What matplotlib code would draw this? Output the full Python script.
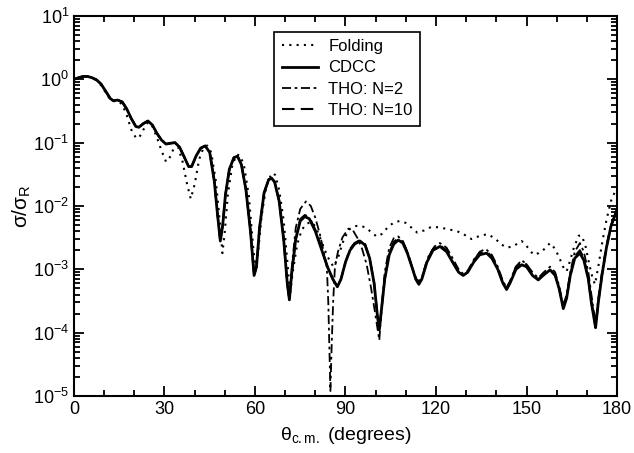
import numpy as np
import matplotlib
matplotlib.use("Agg")
import matplotlib.pyplot as plt

plt.rcParams['font.family'] = ['Liberation Sans', 'DejaVu Sans']
plt.rcParams['mathtext.fontset'] = 'custom'
plt.rcParams['mathtext.rm'] = 'Liberation Sans'
plt.rcParams['mathtext.it'] = 'Liberation Sans:italic'

# -----------------------------
# Données
# -----------------------------
theta_cdcc = [0, 1.5, 3, 4.5, 6, 7.5, 9, 10.5, 12, 13,
              14.5, 16, 17.5, 19, 20.5, 21.5, 23, 24.5, 26, 27.5,
              29, 30.5, 32, 33.5, 35, 36.5, 38, 39, 40.5, 42,
              43.5, 45, 46.5, 47.5, 48.5, 49.3, 50.2, 51.5, 53, 54.2,
              55.5, 57, 58.5, 59.7, 60.5, 61.5, 63, 64.5, 65.5, 66.5,
              68, 69.5, 70.7, 71.4, 72.2, 73.5, 75, 76.5, 78, 80,
              82, 84, 85.8, 87.3, 88.5, 90, 91.5, 93, 94.8, 96.5,
              98, 99.5, 100.5, 101.2, 102, 103, 104.5, 106, 107.5, 109,
              110.5, 112, 113.3, 114.3, 115.3, 117, 119, 121.3, 123.5, 125.5,
              127.5, 129, 130.5, 132.5, 134.5, 136.8, 138.5, 140.5, 142.2, 143.4,
              144.5, 146.5, 148.4, 150, 152, 153.9, 155.5, 157.8, 159.5, 160.8,
              162.2, 163.3, 164.5, 166, 167.7, 169, 170.5, 171.5, 172.9, 173.8,
              175, 176.5, 178, 180]
cdcc = [1.0, 1.06, 1.11, 1.11, 1.06, 0.98, 0.84, 0.65, 0.50, 0.46,
        0.47, 0.44, 0.34, 0.24, 0.18, 0.175, 0.20, 0.22, 0.19, 0.14,
        0.11, 0.095, 0.098, 0.10, 0.085, 0.06, 0.042, 0.042, 0.062, 0.082,
        0.089, 0.07, 0.025, 0.008, 0.0028, 0.005, 0.015, 0.038, 0.058, 0.061,
        0.045, 0.018, 0.004, 0.0008, 0.0011, 0.0045, 0.016, 0.026, 0.0275, 0.024,
        0.012, 0.003, 0.0006, 0.00033, 0.0009, 0.003, 0.0058, 0.0068, 0.0063, 0.0040,
        0.0021, 0.0011, 0.0007, 0.00053, 0.0007, 0.0013, 0.0020, 0.0025, 0.0028, 0.0024,
        0.0015, 0.0006, 0.0002, 0.00011, 0.00025, 0.0007, 0.0017, 0.0025, 0.0029, 0.0026,
        0.0018, 0.0011, 0.0007, 0.00058, 0.0007, 0.0013, 0.0020, 0.0023, 0.0019, 0.0013,
        0.0009, 0.0008, 0.0009, 0.0013, 0.0017, 0.0018, 0.0015, 0.0010, 0.0006, 0.00048,
        0.0006, 0.001, 0.00118, 0.0011, 0.0008, 0.00068, 0.0008, 0.00098, 0.0008, 0.0005,
        0.00024, 0.00035, 0.0008, 0.0015, 0.0018, 0.0014, 0.0007, 0.0003, 0.00012, 0.0003,
        0.0008, 0.0022, 0.0048, 0.0088]

theta_n10 = theta_cdcc
tho_n10 = [1.0, 1.06, 1.11, 1.11, 1.06, 0.98, 0.84, 0.65, 0.50, 0.46,
           0.47, 0.44, 0.34, 0.24, 0.18, 0.175, 0.20, 0.22, 0.19, 0.14,
           0.11, 0.095, 0.098, 0.10, 0.085, 0.06, 0.042, 0.042, 0.062, 0.082,
           0.089, 0.07, 0.025, 0.008, 0.0028, 0.005, 0.015, 0.038, 0.058, 0.061,
           0.045, 0.018, 0.004, 0.0008, 0.0011, 0.0045, 0.016, 0.026, 0.0275, 0.024,
           0.012, 0.003, 0.0006, 0.00033, 0.0009, 0.003, 0.0062, 0.0072, 0.0067, 0.0042,
           0.0022, 0.0011, 0.0007, 0.00053, 0.0007, 0.0013, 0.0021, 0.0026, 0.0029, 0.0025,
           0.0015, 0.0006, 0.0002, 0.00011, 0.00025, 0.0007, 0.0018, 0.0027, 0.0031, 0.0027,
           0.0019, 0.0011, 0.0007, 0.0006, 0.0007, 0.0014, 0.0021, 0.0024, 0.0020, 0.0013,
           0.0009, 0.0008, 0.0009, 0.0014, 0.0018, 0.0019, 0.0016, 0.0010, 0.0006, 0.0005,
           0.00062, 0.0011, 0.0013, 0.0012, 0.0008, 0.0007, 0.00082, 0.001, 0.00082, 0.0005,
           0.00025, 0.00036, 0.0008, 0.0016, 0.0020, 0.0015, 0.0007, 0.0003, 0.00012, 0.0003,
           0.0008, 0.0022, 0.0048, 0.0088]

theta_fold = [0, 1.5, 3, 4.5, 6, 7.5, 9, 10.5, 12, 13,
              14.5, 16, 17.5, 19, 20.5, 21.5, 23, 24.5, 26, 27.5,
              29, 30.5, 31.5, 33, 34.5, 36, 37.5, 38.7, 40, 41.5,
              43, 44.2, 45.5, 47, 48.3, 49.2, 50, 51, 52.5, 54,
              55.2, 56.5, 58, 59.3, 60.2, 61, 62.2, 63.7, 65.5, 66.7,
              68, 69.5, 70.8, 71.6, 72.5, 74, 75.5, 77, 78.5, 80,
              82, 84, 86, 87.5, 89, 91, 93, 94.8, 96.5, 98.5,
              100.3, 102, 104, 106, 108, 110, 112, 113.8, 116, 118.5,
              121, 124, 127, 129.5, 131.8, 134, 137, 139.5, 141.5, 143.5,
              145.5, 148.4, 150.5, 152.3, 154, 155.5, 157.8, 159.5, 161.2, 162.5,
              163.3, 164.3, 165.7, 167.3, 168.3, 169.5, 170.8, 172, 172.7, 173.8,
              175, 176.5, 178, 180]
folding = [1.0, 1.06, 1.11, 1.11, 1.05, 0.96, 0.80, 0.62, 0.48, 0.45,
           0.46, 0.40, 0.27, 0.16, 0.12, 0.118, 0.16, 0.21, 0.18, 0.12,
           0.075, 0.05, 0.055, 0.08, 0.085, 0.05, 0.022, 0.013, 0.022, 0.055,
           0.085, 0.09, 0.07, 0.025, 0.006, 0.0018, 0.004, 0.015, 0.045, 0.065,
           0.062, 0.04, 0.014, 0.0025, 0.0010, 0.0018, 0.007, 0.02, 0.033, 0.031,
           0.018, 0.006, 0.0012, 0.0004, 0.0009, 0.0025, 0.0042, 0.0052, 0.0056, 0.0048,
           0.0028, 0.0016, 0.0011, 0.0015, 0.0026, 0.0042, 0.0048, 0.0049, 0.0046, 0.0039,
           0.0033, 0.0036, 0.0046, 0.0055, 0.0058, 0.0054, 0.0045, 0.0038, 0.0041, 0.0047,
           0.0046, 0.0043, 0.0040, 0.0035, 0.0030, 0.0033, 0.0036, 0.0031, 0.0025, 0.0022,
           0.0023, 0.0028, 0.0022, 0.0017, 0.0018, 0.0020, 0.0026, 0.0021, 0.0014, 0.0010,
           0.00093, 0.0013, 0.0022, 0.0034, 0.0034, 0.0024, 0.0012, 0.0007, 0.00058, 0.0011,
           0.0025, 0.006, 0.012, 0.020]

theta_n2 = [0, 1.5, 3, 4.5, 6, 7.5, 9, 10.5, 12, 13,
            14.5, 16, 17.5, 19, 20.5, 21.5, 23, 24.5, 26, 27.5,
            29, 30.5, 32, 33.5, 35, 36.5, 38, 39, 40.5, 42,
            43.5, 45, 46.5, 47.5, 48.5, 49.3, 50.2, 51.5, 53, 54.2,
            55.5, 57, 58.5, 59.7, 60.5, 61.5, 63, 64.5, 65.5, 66.5,
            68, 69.5, 70.7, 71.4, 72.2, 73.5, 75, 76.9, 78.5, 80,
            81.5, 83, 83.8, 84.3, 84.7, 85.0, 85.4, 85.9, 86.5, 87.5,
            89, 91, 92.5, 94, 95.5, 97, 98.5, 100, 101.2, 102,
            103, 104.5, 106, 107.5, 109, 110.5, 112, 113.5, 114.5, 115.5,
            117.5, 119.5, 121.3, 123.5, 125.5, 127.5, 129, 130.5, 132.5, 134.5,
            136.5, 138.5, 140.5, 142.2, 143.4, 144.5, 146.5, 148.4, 150, 152,
            153.9, 155.5, 157.8, 159.5, 160.8, 162.2, 163.3, 164.5, 166, 167.7,
            169, 170.5, 171.5, 172.9, 173.8, 175, 176.5, 178, 180]
tho_n2 = [1.0, 1.06, 1.11, 1.11, 1.06, 0.98, 0.84, 0.65, 0.50, 0.46,
          0.47, 0.44, 0.34, 0.24, 0.18, 0.175, 0.20, 0.22, 0.19, 0.14,
          0.11, 0.095, 0.098, 0.10, 0.085, 0.06, 0.042, 0.042, 0.062, 0.082,
          0.089, 0.07, 0.025, 0.008, 0.0028, 0.005, 0.015, 0.038, 0.058, 0.061,
          0.045, 0.018, 0.004, 0.0008, 0.0011, 0.0045, 0.016, 0.026, 0.0275, 0.024,
          0.012, 0.003, 0.0006, 0.00033, 0.0011, 0.0045, 0.009, 0.0118, 0.010, 0.0065,
          0.0036, 0.0017, 0.0011, 0.0003, 0.00005, 0.000012, 0.00006, 0.0003, 0.0011, 0.0019,
          0.0032, 0.0044, 0.0041, 0.0031, 0.0021, 0.0012, 0.0005, 0.00018, 0.000076, 0.00025,
          0.0009, 0.0022, 0.0031, 0.0033, 0.0028, 0.0019, 0.0011, 0.0007, 0.00065, 0.0008,
          0.0016, 0.0023, 0.0026, 0.0022, 0.0015, 0.001, 0.00085, 0.00095, 0.0014, 0.0019,
          0.0021, 0.0017, 0.0011, 0.00065, 0.00052, 0.00065, 0.0011, 0.0014, 0.0012, 0.0009,
          0.00073, 0.00088, 0.0011, 0.0009, 0.00055, 0.00027, 0.0004, 0.0009, 0.0019, 0.0026,
          0.0019, 0.0009, 0.0004, 0.00014, 0.00035, 0.0009, 0.0024, 0.005, 0.0085]

# -----------------------------
# Tracé
# -----------------------------
fig = plt.figure(figsize=(6.34, 4.53), dpi=100)
ax = fig.add_axes([0.1167, 0.1258, 0.8565, 0.8389])

ax.plot(theta_fold, folding, color='k', lw=1.5, ls=(0, (1, 2.5)), label="Folding")
ax.plot(theta_cdcc, cdcc, color='k', lw=2.0, ls='-', label="CDCC")
ax.plot(theta_n2, tho_n2, color='k', lw=1.3, ls=(0, (5, 2, 1.5, 2)), label="THO: N=2")
ax.plot(theta_n10, tho_n10, color='k', lw=1.5, ls=(0, (6, 3)), label="THO: N=10")

ax.set_yscale('log')
ax.set_xlim(0, 180)
ax.set_ylim(1e-5, 1e1)
ax.set_xticks(np.arange(0, 181, 30))
ax.set_xticks(np.arange(0, 181, 10), minor=True)
ax.tick_params(which='both', direction='in', top=True, right=True, labelsize=13, width=1.3)
ax.tick_params(which='major', length=7)
ax.tick_params(which='minor', length=4)
for s in ax.spines.values():
    s.set_linewidth(1.5)

ax.set_xlabel("θ$_{\\mathrm{c.m.}}$ (degrees)", fontsize=14, labelpad=5)
ax.set_ylabel("σ/σ$_{\\mathrm{R}}$", fontsize=15, labelpad=0)

leg = ax.legend(loc='upper center', bbox_to_anchor=(0.503, 0.981), fontsize=12,
                handlelength=2.2, fancybox=False, framealpha=1, edgecolor='k',
                borderpad=0.45, labelspacing=0.38, handletextpad=0.6)
leg.get_frame().set_linewidth(1.2)

fig.savefig("out.png", dpi=100)
